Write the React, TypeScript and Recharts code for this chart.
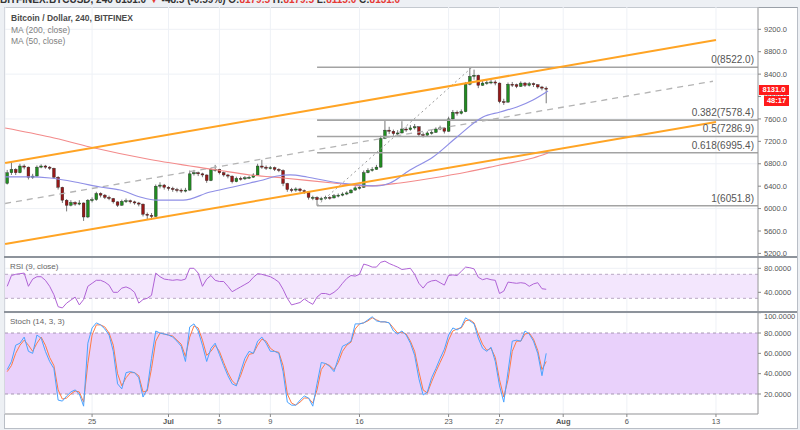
import { ComposedChart, Bar, Line, XAxis, YAxis, CartesianGrid, ReferenceLine, ReferenceArea } from 'recharts'

// time axis: days since Jun 1 2018, one candle = 8h
const START_DAY = 17 + 1 / 3
const STEP = 1 / 3
const X_DOMAIN: [number, number] = [17.16, 76.3]

const tickDays = [24, 30, 34, 38, 45, 52, 56, 61, 66, 73]
const tickLabels = ['25', 'Jul', '5', '9', '16', '23', '27', 'Aug', '6', '13']
const priceTicks = [5200, 5600, 6000, 6400, 6800, 7200, 7600, 8000, 8400, 8800, 9200]

const firstOpen = 6450
const closes = [
  6640, 6700, 6640, 6760, 6740, 6560, 6580, 6740, 6760, 6740,
  6720, 6560, 6380, 6150, 6060, 6110, 6080, 6100, 5850, 6150,
  6160, 6270, 6240, 6200, 6180, 6120, 6060, 6130, 6140, 6120,
  6100, 6080, 5900, 5880, 5860, 6400, 6420, 6380, 6360, 6340,
  6330, 6320, 6330, 6620, 6640, 6620, 6600, 6500, 6700, 6700,
  6640, 6600, 6580, 6480, 6540, 6530, 6550, 6560, 6600, 6760,
  6740, 6720, 6730, 6700, 6680, 6450, 6340, 6330, 6350, 6320,
  6300, 6200, 6200, 6160, 6180, 6200, 6190, 6230, 6240, 6260,
  6280, 6330, 6370, 6380, 6640, 6680, 6700, 6740, 7250, 7400,
  7380, 7340, 7350, 7420, 7410, 7440, 7460, 7320, 7310, 7350,
  7360, 7420, 7440, 7380, 7600, 7720, 7700, 7730, 8220, 8360,
  8380, 8200, 8240, 8250, 8260, 8240, 7910, 7900, 8220, 8210,
  8180, 8240, 8200, 8230, 8210, 8170, 8150, 8131,
]
const highs = [
  6690, 6830, 6720, 6800, 6790, 6750, 6620, 6770, 6790, 6780,
  6760, 6730, 6580, 6390, 6170, 6150, 6130, 6150, 6110, 6170,
  6200, 6300, 6290, 6260, 6230, 6190, 6130, 6160, 6180, 6160,
  6140, 6120, 6090, 5930, 5920, 6430, 6470, 6440, 6400, 6390,
  6370, 6360, 6370, 6680, 6690, 6660, 6640, 6610, 6730, 6780,
  6710, 6660, 6620, 6590, 6570, 6570, 6580, 6590, 6630, 6800,
  6870, 6770, 6760, 6750, 6720, 6700, 6460, 6370, 6380, 6370,
  6340, 6310, 6230, 6220, 6210, 6230, 6220, 6260, 6270, 6290,
  6310, 6350, 6400, 6420, 6680, 6720, 6740, 6780, 7300, 7580,
  7460, 7410, 7400, 7560, 7460, 7490, 7510, 7470, 7360, 7380,
  7400, 7450, 7480, 7450, 7640, 7760, 7750, 7770, 8260, 8522,
  8480, 8390, 8280, 8290, 8300, 8290, 8250, 7960, 8250, 8260,
  8230, 8270, 8260, 8260, 8250, 8220, 8190, 8180,
]
const lows = [
  6430, 6600, 6600, 6630, 6700, 6520, 6530, 6570, 6720, 6710,
  6690, 6530, 6340, 6100, 5950, 6040, 6050, 6060, 5780, 5830,
  6110, 6140, 6200, 6170, 6150, 6090, 6030, 6050, 6100, 6090,
  6070, 6040, 5860, 5800, 5800, 5850, 6360, 6340, 6320, 6300,
  6290, 6280, 6290, 6320, 6590, 6580, 6560, 6460, 6490, 6660,
  6610, 6570, 6540, 6450, 6470, 6500, 6510, 6530, 6550, 6590,
  6710, 6690, 6700, 6670, 6650, 6400, 6300, 6290, 6300, 6290,
  6260, 6160, 6150, 6052, 6140, 6160, 6160, 6180, 6200, 6220,
  6240, 6270, 6320, 6340, 6370, 6630, 6660, 6690, 6730, 7240,
  7330, 7300, 7300, 7340, 7370, 7390, 7410, 7280, 7270, 7300,
  7320, 7350, 7400, 7340, 7370, 7580, 7660, 7680, 7720, 8200,
  8300, 8150, 8190, 8210, 8220, 8200, 7880, 7850, 7890, 8170,
  8150, 8170, 8170, 8180, 8170, 8140, 8110, 7880,
]

const rsiValues = [
  50, 68, 70, 71, 72, 50, 62, 66, 66, 60,
  50, 36, 16, 14, 22, 27, 32, 19, 28, 50,
  55, 60, 60, 57, 52, 40, 40, 47, 49, 46,
  40, 22, 28, 30, 35, 72, 66, 62, 61, 60,
  61, 60, 62, 80, 80, 72, 50, 62, 68, 60,
  58, 58, 50, 41, 45, 49, 53, 57, 65, 71,
  70, 68, 66, 62, 57, 45, 30, 19, 21, 23,
  29, 24, 20, 32, 38, 38, 36, 40, 46, 55,
  63, 68, 67, 70, 87, 85, 82, 82, 90, 92,
  88, 85, 82, 78, 79, 80, 70, 55, 47, 56,
  59, 60, 56, 52, 68, 69, 68, 75, 82, 81,
  79, 65, 61, 63, 61, 60, 38, 42, 57, 56,
  55, 56, 55, 50, 54, 56, 46, 45,
]
const stochK = [
  44, 52, 68, 70, 76, 62, 60, 78, 75, 62,
  52, 45, 14, 13, 18, 22, 24, 20, 8, 70,
  85, 90, 88, 84, 78, 62, 30, 25, 41, 42,
  41, 36, 17, 25, 55, 82, 80, 79, 78, 76,
  72, 67, 52, 86, 89, 82, 68, 52, 65, 70,
  59, 48, 38, 30, 28, 42, 55, 62, 60, 72,
  76, 70, 62, 62, 60, 42, 12, 9, 9, 14,
  18, 16, 8, 30, 51, 50, 47, 42, 55, 67,
  69, 72, 89, 89, 90, 93, 96, 92, 91, 91,
  90, 82, 79, 82, 78, 70, 58, 35, 19, 22,
  36, 45, 55, 64, 78, 85, 83, 86, 95, 92,
  89, 75, 65, 62, 66, 52, 28, 12, 42, 72,
  73, 72, 82, 79, 72, 60, 38, 60,
]
const stochD = [
  42, 48, 60, 68, 73, 68, 62, 70, 76, 68,
  56, 48, 24, 15, 16, 20, 23, 22, 12, 50,
  78, 88, 88, 86, 80, 68, 40, 28, 36, 41,
  41, 38, 22, 23, 45, 72, 80, 79, 78, 77,
  73, 69, 57, 76, 87, 85, 73, 58, 62, 68,
  62, 51, 41, 33, 29, 38, 50, 59, 60, 68,
  74, 72, 65, 62, 61, 48, 20, 11, 9, 12,
  16, 16, 11, 24, 44, 50, 48, 44, 51, 62,
  68, 71, 84, 89, 90, 92, 95, 93, 91, 91,
  90, 85, 80, 81, 79, 72, 62, 42, 24, 21,
  32, 42, 51, 60, 73, 82, 84, 85, 92, 93,
  90, 79, 69, 63, 65, 56, 34, 17, 34, 62,
  72, 72, 79, 80, 74, 63, 44, 52,
]

const ma50Days = [17.17, 19.13, 20.7, 23.06, 24.63, 26.2, 27.77, 29.1, 31.15, 33.27, 35.07, 36.41, 37.43, 38.53, 39.55, 40.88, 42.92, 44.26, 46.38, 47.4, 48.97, 50.78, 52.66, 54.7, 56.04, 57.37, 58.63, 59.81]
const ma50Values = [6566, 6566, 6546, 6457, 6385, 6332, 6207, 6150, 6150, 6296, 6385, 6457, 6510, 6582, 6600, 6564, 6475, 6439, 6403, 6457, 6689, 6921, 7278, 7635, 7724, 7813, 7938, 8099]
const ma200Days = [17.17, 20.7, 23.84, 28.55, 33.82, 36.41, 39.0, 42.92, 45.59, 48.19, 50.78, 53.45, 56.04, 58.63, 59.81]
const ma200Values = [7439, 7278, 7099, 6876, 6689, 6600, 6546, 6457, 6403, 6457, 6546, 6653, 6778, 6903, 6992]

// drawing tools
const channelUpper = [{ x: 17.17, y: 6814 }, { x: 73.0, y: 9009 }]
const channelLower = [{ x: 17.17, y: 5368 }, { x: 73.0, y: 7546 }]
const channelMid = [{ x: 17.17, y: 6091 }, { x: 72.76, y: 8273 }]
const fibStart = 41.67
const fibPeak = 53.84
const fibLevels = [8522.0, 7578.4, 7286.9, 6995.4, 6051.8]
const fibLabels = ['0(8522.0)', '0.382(7578.4)', '0.5(7286.9)', '0.618(6995.4)', '1(6051.8)']

const rows = closes.map((c, i) => ({
  t: START_DAY + i * STEP,
  o: i === 0 ? firstOpen : closes[i - 1],
  h: highs[i],
  l: lows[i],
  c,
  range: [lows[i], highs[i]],
  rsi: rsiValues[i],
  k: stochK[i],
  d: stochD[i],
}))
const ma50 = ma50Days.map((t, i) => ({ t, v: ma50Values[i] }))
const ma200 = ma200Days.map((t, i) => ({ t, v: ma200Values[i] }))

const FONT = "'Liberation Sans', Arial, sans-serif"
const GRID = '#eef1f6'
const AXIS_TICK = { fontSize: 7.5, fill: '#555', fontFamily: FONT }
const BODY_W = 2.8

function renderCandle(props: any) {
  const { x, y, width, height, payload } = props
  if (!payload) return <g />
  const { o, h, l, c } = payload
  const top = Math.min(y, y + height)
  const hgt = Math.abs(height)
  const px = (v: number) => (h === l ? top : top + ((h - v) / (h - l)) * hgt)
  const cx = x + width / 2
  const bTop = px(Math.max(o, c))
  const bBot = px(Math.min(o, c))
  const up = c >= o
  return (
    <g>
      <line x1={cx} x2={cx} y1={top} y2={top + hgt} stroke="#555" strokeWidth={0.8} />
      <rect x={cx - BODY_W / 2} y={bTop} width={BODY_W} height={Math.max(1, bBot - bTop)} fill={up ? '#218c21' : '#961818'} stroke="#2a2a2a" strokeWidth={0.4} />
    </g>
  )
}

function DateTick(props: any) {
  const { x, y, payload } = props
  const label = tickLabels[tickDays.indexOf(payload.value)]
  const bold = label === 'Jul' || label === 'Aug'
  return (
    <text x={x} y={y} dy="0.71em" textAnchor="middle" fontSize={7.5} fontFamily={FONT} fontWeight={bold ? 700 : 400} fill="#555">
      {label}
    </text>
  )
}

const legend = { position: 'absolute' as const, left: 11, fontFamily: FONT, whiteSpace: 'nowrap' as const }

export default function App() {
  return (
    <div style={{ position: 'absolute', left: 0, top: 0, width: 800, height: 430, overflow: 'hidden', background: '#edf0f4' }}>
      <div style={{ position: 'absolute', left: 0, top: -6, fontFamily: FONT, fontSize: 10, fontWeight: 700, color: '#333', whiteSpace: 'nowrap' }}>
        BITFINEX:BTCUSD, 240 8131.0 <span style={{ color: '#e53935' }}>▼</span> -48.5 (-0.59%) O:<span style={{ color: '#e53935' }}>8179.5</span> H:<span style={{ color: '#e53935' }}>8179.5</span> L:<span style={{ color: '#e53935' }}>8115.0</span> C:<span style={{ color: '#e53935' }}>8131.0</span>
      </div>
      <div style={{ position: 'absolute', left: 4, top: 7, width: 792, height: 420, background: '#fff', border: '1px solid #b9bec6', borderTop: '1px solid #9aa0a8' }} />

      <div style={{ position: 'absolute', left: 0, top: 0 }}>
        <ComposedChart width={800} height={258} data={rows} margin={{ top: 7, right: 2, left: 5, bottom: 1 }}>
          <CartesianGrid stroke={GRID} />
          <XAxis type="number" dataKey="t" domain={X_DOMAIN} ticks={tickDays} allowDataOverflow hide />
          <YAxis
            orientation="right"
            width={40}
            domain={[5136, 9598]}
            ticks={priceTicks}
            allowDataOverflow
            tickFormatter={(v: number) => v.toFixed(1)}
            tick={AXIS_TICK}
            tickSize={3}
            tickMargin={3}
            tickLine={{ stroke: '#888' }}
            axisLine={{ stroke: '#999' }}
          />
          {fibLevels.map((lv, i) => (
            <ReferenceLine
              key={fibLabels[i]}
              segment={[{ x: fibStart, y: lv }, { x: X_DOMAIN[1], y: lv }]}
              stroke="#a3a3a3"
              strokeWidth={1.6}
              ifOverflow="hidden"
              label={{ value: fibLabels[i], position: 'insideBottomRight', offset: 4, fill: '#555', fontSize: 10, fontFamily: FONT }}
            />
          ))}
          <ReferenceLine segment={[{ x: fibStart, y: fibLevels[4] }, { x: fibPeak, y: fibLevels[0] }]} stroke="#9a9a9a" strokeDasharray="2 3" strokeWidth={1} ifOverflow="hidden" />
          <ReferenceLine segment={channelMid} stroke="#b4b4b4" strokeDasharray="6 5" strokeWidth={1.3} ifOverflow="hidden" />
          <Line data={ma200} dataKey="v" type="monotone" stroke="#f38b8b" strokeWidth={1.2} dot={false} activeDot={false} isAnimationActive={false} />
          <Line data={ma50} dataKey="v" type="monotone" stroke="#8f8fe6" strokeWidth={1.2} dot={false} activeDot={false} isAnimationActive={false} />
          <ReferenceLine segment={channelUpper} stroke="#ffa424" strokeWidth={2} ifOverflow="hidden" />
          <ReferenceLine segment={channelLower} stroke="#ffa424" strokeWidth={2} ifOverflow="hidden" />
          <Bar dataKey="range" barSize={3} shape={renderCandle} isAnimationActive={false} />
        </ComposedChart>
      </div>

      <div style={{ position: 'absolute', left: 0, top: 256 }}>
        <ComposedChart width={800} height={56} data={rows} margin={{ top: 0, right: 2, left: 5, bottom: 0 }}>
          <CartesianGrid stroke={GRID} />
          <XAxis type="number" dataKey="t" domain={X_DOMAIN} ticks={tickDays} allowDataOverflow hide />
          <YAxis
            orientation="right"
            width={40}
            domain={[7.2, 100.5]}
            ticks={[40, 80]}
            allowDataOverflow
            tickFormatter={(v: number) => v.toFixed(4)}
            tick={AXIS_TICK}
            tickSize={3}
            tickMargin={3}
            tickLine={{ stroke: '#888' }}
            axisLine={{ stroke: '#999' }}
          />
          <ReferenceArea y1={30} y2={70} fill="#f3e6fd" fillOpacity={1} stroke="none" />
          <ReferenceLine y={70} stroke="#b9a9c4" strokeDasharray="3 3" />
          <ReferenceLine y={30} stroke="#b9a9c4" strokeDasharray="3 3" />
          <Line dataKey="rsi" type="linear" stroke="#b063d6" strokeWidth={1} dot={false} activeDot={false} isAnimationActive={false} />
        </ComposedChart>
      </div>

      <div style={{ position: 'absolute', left: 0, top: 312 }}>
        <ComposedChart width={800} height={118} data={rows} margin={{ top: 0, right: 2, left: 5, bottom: 0 }}>
          <CartesianGrid stroke={GRID} />
          <XAxis
            type="number"
            dataKey="t"
            domain={X_DOMAIN}
            ticks={tickDays}
            allowDataOverflow
            height={16}
            tick={<DateTick />}
            tickSize={3}
            tickMargin={2}
            tickLine={{ stroke: '#888' }}
            axisLine={{ stroke: '#999' }}
          />
          <YAxis
            orientation="right"
            width={40}
            domain={[0.3, 100.7]}
            ticks={[20, 40, 60, 80, 100]}
            allowDataOverflow
            tickFormatter={(v: number) => v.toFixed(4)}
            tick={AXIS_TICK}
            tickSize={3}
            tickMargin={3}
            tickLine={{ stroke: '#888' }}
            axisLine={{ stroke: '#999' }}
          />
          <ReferenceArea y1={20} y2={80} fill="#e9d1fb" fillOpacity={1} stroke="none" />
          <ReferenceLine y={80} stroke="#a898b4" strokeDasharray="3 3" />
          <ReferenceLine y={20} stroke="#a898b4" strokeDasharray="3 3" />
          <Line dataKey="d" type="linear" stroke="#ff7a45" strokeWidth={1} dot={false} activeDot={false} isAnimationActive={false} />
          <Line dataKey="k" type="linear" stroke="#4aa3ff" strokeWidth={1} dot={false} activeDot={false} isAnimationActive={false} />
        </ComposedChart>
      </div>

      <div style={{ position: 'absolute', left: 4, top: 256, width: 793, height: 1.5, background: '#8d939b' }} />
      <div style={{ position: 'absolute', left: 4, top: 311, width: 793, height: 1.5, background: '#8d939b' }} />

      <div style={{ ...legend, top: 13, fontSize: 8.5, fontWeight: 700, color: '#4a4a4a' }}>Bitcoin / Dollar, 240, BITFINEX</div>
      <div style={{ ...legend, top: 25, fontSize: 8.5, color: '#808080' }}>MA (200, close)</div>
      <div style={{ ...legend, top: 36, fontSize: 8.5, color: '#808080' }}>MA (50, close)</div>
      <div style={{ ...legend, left: 10, top: 262, fontSize: 8, color: '#666' }}>RSI (9, close)</div>
      <div style={{ ...legend, left: 10, top: 317, fontSize: 8, color: '#666' }}>Stoch (14, 3, 3)</div>

      <div style={{ position: 'absolute', left: 759, top: 85, width: 30, height: 10, background: '#ff1a1a', color: '#fff', fontFamily: FONT, fontSize: 7.5, fontWeight: 700, lineHeight: '10px', textAlign: 'center' }}>8131.0</div>
      <div style={{ position: 'absolute', left: 764, top: 96, width: 25, height: 10, background: '#ff1a1a', color: '#fff', fontFamily: FONT, fontSize: 7.5, fontWeight: 700, lineHeight: '10px', textAlign: 'center' }}>48:17</div>
    </div>
  )
}
